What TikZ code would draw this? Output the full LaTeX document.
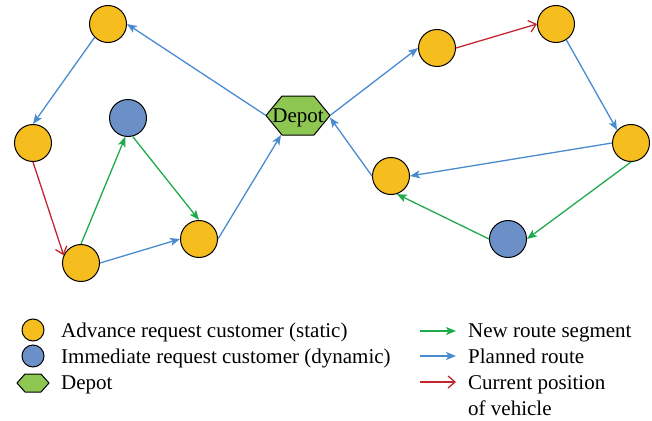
\documentclass[tikz,border=0pt]{standalone}
\usepackage{fontspec}
\setmainfont{Liberation Serif}
\usetikzlibrary{arrows.meta,calc}
\definecolor{custorange}{HTML}{F6BD1F}
\definecolor{custblue}{HTML}{6B8FC7}
\definecolor{depotgreen}{HTML}{8DC752}
\definecolor{planblue}{HTML}{4A8BD0}
\definecolor{newgreen}{HTML}{1FAA4B}
\definecolor{curred}{HTML}{C4262E}
\tikzset{
  cust/.style={circle, draw=black, line width=1pt, fill=custorange, minimum size=37pt, inner sep=0pt},
  dyn/.style={circle, draw=black, line width=1pt, fill=custblue, minimum size=37pt, inner sep=0pt},
  lcust/.style={circle, draw=black, line width=1pt, fill=custorange, minimum size=22pt, inner sep=0pt},
  ldyn/.style={circle, draw=black, line width=1pt, fill=custblue, minimum size=22pt, inner sep=0pt},
  hexfill/.style={draw=black, line width=1pt, fill=depotgreen, line join=miter},
  planned/.style={draw=planblue, line width=1.3pt, -{Stealth[length=10pt,width=8pt,inset=2.5pt]}},
  newseg/.style={draw=newgreen, line width=1.3pt, -{Stealth[length=10pt,width=8pt,inset=2.5pt]}},
  current/.style={draw=curred, line width=1.3pt, -{Straight Barb[length=7pt,width=12pt]}},
  txt/.style={font=\fontsize{21}{26}\selectfont, inner sep=0pt}
}
\begin{document}
\begin{tikzpicture}[x=1pt,y=-1pt]
\useasboundingbox (0,0) rectangle (652,420);

% depot hexagon
\coordinate (dc) at (298,115.5);
\draw[hexfill] ($(dc)+(-32,0)$) -- ($(dc)+(-16,-19.5)$) -- ($(dc)+(16,-19.5)$) -- ($(dc)+(32,0)$) -- ($(dc)+(16,19.5)$) -- ($(dc)+(-16,19.5)$) -- cycle;
\node[minimum width=64pt, minimum height=39pt, inner sep=0pt, outer sep=0pt] (depot) at (dc) {};
\node[txt, anchor=base] (depottext) at (298,122) {Depot};
\coordinate (depotbl) at (281,135);

% customers
\node[cust] (A) at (108,24) {};
\node[cust] (B) at (33,143) {};
\node[dyn]  (C) at (128,118) {};
\node[cust] (D) at (81,263) {};
\node[cust] (E) at (199,239) {};
\node[cust] (F) at (437,48) {};
\node[cust] (G) at (556,24) {};
\node[cust] (H) at (631,143) {};
\node[cust] (I) at (391,176) {};
\node[dyn]  (J) at (508,239) {};

% left tour
\draw[planned] (depot.west) -- (A.east);
\draw[planned] (A.225) -- (B.north);
\draw[current] (B.south) -- (D.156);
\draw[newseg] (D.north) -- (C.-98);
\draw[newseg] (C.-76) -- (E.north);
\draw[planned] (D.east) -- (E.west);
\draw[planned] (E.east) -- (depotbl);

% right tour
\draw[planned] (depot.east) -- (F.west);
\draw[current] (F.east) -- (G.west);
\draw[planned] (G.-57) -- (H.137);
\draw[planned] (H.west) -- (I.east);
\draw[newseg] (H.south) -- (J.east);
\draw[newseg] (J.west) -- (I.-72);
\draw[planned] (I.west) -- ($(depot.east)+(0,2)$);

% legend
\node[lcust] (L1) at (33,330) {};
\node[ldyn]  (L2) at (33,356) {};
\coordinate (lh) at (33,383);
\draw[hexfill] ($(lh)+(-16,0)$) -- ($(lh)+(-8,-9)$) -- ($(lh)+(8,-9)$) -- ($(lh)+(16,0)$) -- ($(lh)+(8,9)$) -- ($(lh)+(-8,9)$) -- cycle;
\node[txt, anchor=base west] (T1) at (61,337) {Advance request customer (static)};
\node[txt, anchor=base west] (T2) at (61,363) {Immediate request customer (dynamic)};
\node[txt, anchor=base west] (T3) at (61,389) {Depot};

\coordinate (a1s) at (420,331); \coordinate (a1e) at (456,331);
\coordinate (a2s) at (420,356); \coordinate (a2e) at (456,356);
\coordinate (a3s) at (420,382); \coordinate (a3e) at (456,382);
\draw[newseg] (a1s) -- (a1e);
\draw[planned] (a2s) -- (a2e);
\draw[current] (a3s) -- (a3e);
\node[txt, anchor=base west] (T4) at (468,337) {New route segment};
\node[txt, anchor=base west] (T5) at (468,363) {Planned route};
\node[txt, anchor=base west, align=left] (T6) at (468,415) {Current position\\of vehicle};
\end{tikzpicture}
\end{document}
